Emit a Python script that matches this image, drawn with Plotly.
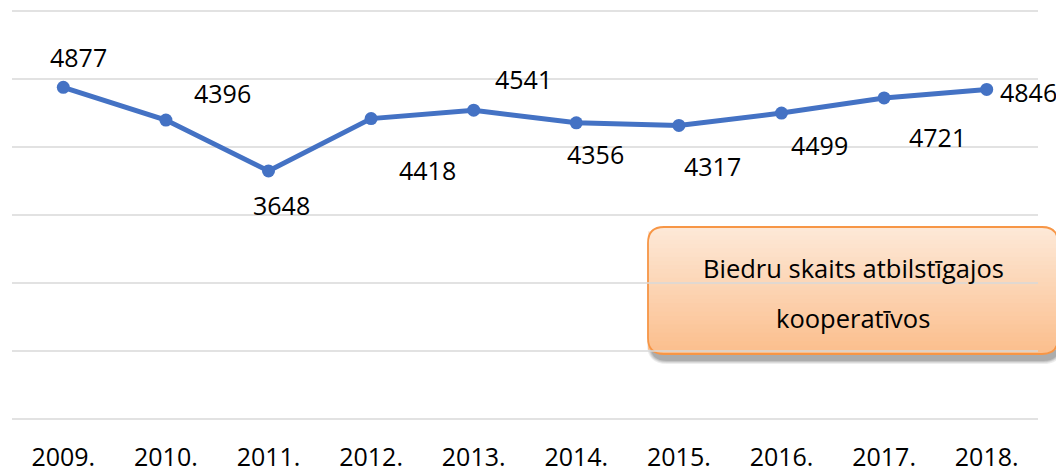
import plotly.graph_objects as go

# ---- data ----
years = ["2009.", "2010.", "2011.", "2012.", "2013.", "2014.", "2015.", "2016.", "2017.", "2018."]
members = [4877, 4396, 3648, 4418, 4541, 4356, 4317, 4499, 4721, 4846]
grid_values = [0, 1000, 2000, 3000, 4000, 5000, 6000]
box_lines = ["Biedru skaits atbilstīgajos", "kooperatīvos"]

# label offsets in pixels (dx right, dy down) - styling only
label_dx = [15, 57, 13, 56, 50, 19, 34, 38, 53, 42]
label_dy = [-30, -27, 34, 51, -31, 31, 41, 32, 39, 3]

Y_MIN, Y_MAX = 0, 6000

W_FIG, H_FIG = 1064, 472
OFF = 8  # page body margin offset in the screenshot
ML, MT = 12 - OFF, 11 - OFF
PW, PH = 1026, 408
MR = W_FIG - ML - PW
MB = H_FIG - MT - PH

FONT = "Open Sans"
LINE_COLOR = "#4472C4"
GRID = "#D9D9D9"

fig = go.Figure()
fig.add_trace(go.Scatter(
    x=years, y=members, mode="lines+markers",
    line=dict(color=LINE_COLOR, width=5),
    marker=dict(color=LINE_COLOR, size=13),
    hoverinfo="skip", showlegend=False,
))

for i, (v, dx, dy) in enumerate(zip(members, label_dx, label_dy)):
    fig.add_annotation(x=i, y=v, text=str(v), showarrow=False,
                       xshift=dx, yshift=-dy,
                       font=dict(family=FONT, size=25, color="#000000"))


# ---- decorative text box (screenshot pixel -> paper helpers) ----
def px2x(px):
    return (px - OFF - ML) / PW


def py2y(py):
    return (MT + PH - (py - OFF)) / PH


def rounded_path(x0, y0, x1, y1, r, round_bottom=True):
    s = f"M {px2x(x0 + r)},{py2y(y0)} "
    s += f"L {px2x(x1 - r)},{py2y(y0)} "
    s += f"Q {px2x(x1)},{py2y(y0)} {px2x(x1)},{py2y(y0 + r)} "
    if round_bottom:
        s += f"L {px2x(x1)},{py2y(y1 - r)} "
        s += f"Q {px2x(x1)},{py2y(y1)} {px2x(x1 - r)},{py2y(y1)} "
        s += f"L {px2x(x0 + r)},{py2y(y1)} "
        s += f"Q {px2x(x0)},{py2y(y1)} {px2x(x0)},{py2y(y1 - r)} "
    else:
        s += f"L {px2x(x1)},{py2y(y1)} "
        s += f"L {px2x(x0)},{py2y(y1)} "
    s += f"L {px2x(x0)},{py2y(y0 + r)} "
    s += f"Q {px2x(x0)},{py2y(y0)} {px2x(x0 + r)},{py2y(y0)} Z"
    return s


BX0, BY0, BX1, BY1, R = 648, 227, 1058, 354, 16
shapes = []
# shadow
for i, op in enumerate([0.10, 0.12, 0.16, 0.20]):
    g = 4 - i
    shapes.append(dict(type="path", xref="paper", yref="paper", layer="below",
                       path=rounded_path(BX0 + 3 - g, BY0 + 6 - g, BX1 + 1 + g, BY1 + 6 + g, R + g),
                       fillcolor=f"rgba(80,80,80,{op})", line=dict(width=0)))

top_c = (253, 233, 216)
bot_c = (251, 190, 140)
N = 30
H = BY1 - BY0
for k in range(N):
    yb = BY0 + H * (N - k) / N
    t = (k + 0.5) / N  # 0 bottom -> 1 top
    c = tuple(round(bot_c[j] + (top_c[j] - bot_c[j]) * t) for j in range(3))
    shapes.append(dict(type="path", xref="paper", yref="paper", layer="below",
                       path=rounded_path(BX0, BY0, BX1, yb, R, round_bottom=(k == 0)),
                       fillcolor=f"rgb{c}", line=dict(width=0)))
shapes.append(dict(type="path", xref="paper", yref="paper", layer="below",
                   path=rounded_path(BX0, BY0, BX1, BY1, R),
                   fillcolor="rgba(0,0,0,0)", line=dict(color="#F79646", width=1.8)))
# gridlines (drawn over the box, as in the reference), paper-referenced so they share the box's layer
for gv in grid_values:
    yp = (gv - Y_MIN) / (Y_MAX - Y_MIN)
    shapes.append(dict(type="line", xref="paper", yref="paper", layer="below",
                       x0=0, x1=1, y0=yp, y1=yp, line=dict(color=GRID, width=1.5)))

fig.add_annotation(xref="paper", yref="paper", x=px2x((BX0 + BX1) / 2), y=py2y(268),
                   text=box_lines[0], showarrow=False, xanchor="center", yanchor="middle",
                   font=dict(family=FONT, size=25.5, color="#000000"))
fig.add_annotation(xref="paper", yref="paper", x=px2x((BX0 + BX1) / 2), y=py2y(318),
                   text=box_lines[1], showarrow=False, xanchor="center", yanchor="middle",
                   font=dict(family=FONT, size=25.5, color="#000000"))

fig.update_layout(
    width=W_FIG, height=H_FIG,
    margin=dict(l=ML, r=MR, t=MT, b=MB, autoexpand=False),
    paper_bgcolor="white", plot_bgcolor="rgba(0,0,0,0)",
    shapes=shapes,
    xaxis=dict(type="category", showgrid=False, zeroline=False, showline=False, ticks="",
               tickfont=dict(family=FONT, size=25, color="#000000"),
               ticklabelstandoff=21, automargin=False, range=[-0.5, 9.5]),
    yaxis=dict(range=[Y_MIN, Y_MAX], dtick=1000, showgrid=False,
               zeroline=False, showticklabels=False, showline=False, automargin=False),
)

fig.write_html("out.html")
